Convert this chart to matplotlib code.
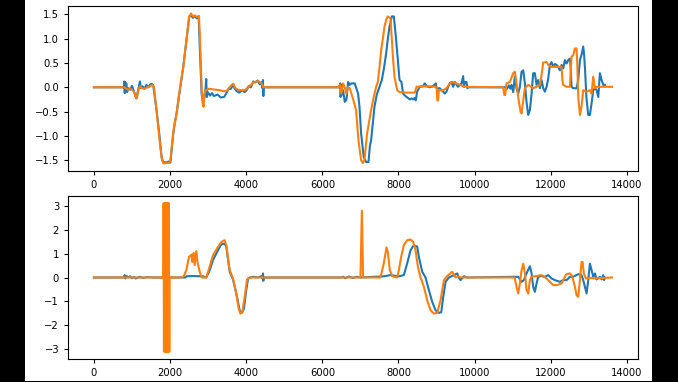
import matplotlib
matplotlib.use("Agg")
import matplotlib.pyplot as plt
from matplotlib.patches import Rectangle

# top panel, blue series (x, y)
top_blue_x = [0, 790, 800, 810, 820, 835, 850, 870, 900, 950, 1000, 1050, 1100, 1120, 1150, 1190, 1210, 1230,
              1280, 1330, 1380, 1430, 1480, 1520, 1560, 1600, 1650, 1716, 1778, 1820, 1900, 1960, 2010, 2040,
              2084, 2130, 2172, 2240, 2303, 2350, 2390, 2452, 2504, 2550, 2600, 2650, 2700, 2750, 2785, 2828,
              2872, 2900, 2930, 2950, 2965, 2990, 3050, 3100, 3150, 3250, 3330, 3420, 3480, 3530, 3600, 3660,
              3690, 3750, 3820, 3900, 3960, 4010, 4060, 4120, 4186, 4240, 4300, 4360, 4400, 4430, 4440, 4450,
              4460, 6460, 6470, 6480, 6500, 6520, 6544, 6588, 6632, 6676, 6720, 6763, 6851, 6939, 6975, 7018,
              7088, 7150, 7211, 7250, 7281, 7330, 7369, 7430, 7501, 7562, 7620, 7676, 7720, 7764, 7825, 7878,
              7939, 7990, 8027, 8077, 8120, 8209, 8250, 8296, 8340, 8384, 8420, 8454, 8489, 8559, 8640, 8691,
              8740, 8822, 8900, 8980, 9000, 9085, 9172, 9215, 9260, 9304, 9348, 9390, 9435, 9480, 9560, 9654,
              9698, 9720, 9742, 9786, 9810, 9830, 10800, 10850, 10900, 10940, 10969, 11013, 11056, 11100,
              11144, 11188, 11232, 11276, 11320, 11363, 11407, 11451, 11495, 11538, 11582, 11626, 11669, 11714,
              11757, 11801, 11845, 11889, 11933, 11976, 12020, 12064, 12108, 12152, 12196, 12239, 12283, 12326,
              12370, 12414, 12458, 12502, 12520, 12545, 12590, 12677, 12721, 12765, 12808, 12852, 12875, 12900,
              12935, 12983, 13027, 13071, 13115, 13160, 13203, 13247, 13290, 13334, 13378, 13422]
top_blue_y = [0, 0, 0.12, -0.12, 0.1, -0.05, 0.08, -0.1, -0.02, -0.05, 0.03, -0.08, -0.2, -0.23, -0.1, 0.05, 0.12, -0.02,
              0.02, -0.03, 0.05, 0.0, 0.06, 0.07, 0.03, -0.2, -0.5, -0.95, -1.44, -1.54, -1.55, -1.53, -1.55, -1.3,
              -0.95, -0.7, -0.54, -0.15, 0.18, 0.45, 0.7, 1.11, 1.46, 1.48, 1.43, 1.47, 1.42, 1.46, 0.77, -0.13,
              -0.37, -0.2, -0.05, 0.17, -0.2, -0.1, -0.17, -0.12, -0.18, -0.15, -0.21, -0.2, -0.12, -0.04, -0.03, 0.07,
              -0.02, -0.08, -0.11, -0.06, -0.1, -0.06, 0.02, 0.0, 0.12, 0.1, 0.14, 0.06, 0.1, -0.02, 0.15, -0.18,
              0.0, 0.0, 0.08, -0.2, 0.05, -0.15, -0.06, -0.3, -0.26, 0.11, 0.05, 0.08, 0.08, -0.13, -0.4, -0.95,
              -1.44, -1.54, -1.54, -1.2, -1.09, -0.7, -0.4, -0.15, 0.01, 0.15, 0.4, 0.7, 1.0, 1.25, 1.46, 1.46,
              0.97, 0.5, 0.15, 0.11, -0.13, -0.2, -0.22, -0.25, -0.23, -0.25, -0.22, -0.27, -0.09, 0.01, 0.02, 0.08,
              0.02, 0.0, 0.02, 0.08, -0.02, -0.02, -0.09, -0.13, -0.09, 0.01, 0.08, 0.11, 0.01, 0.11, 0.01, 0.08,
              0.23, 0.01, 0.11, 0.11, -0.02, 0.0, 0.0, -0.03, 0.04, -0.03, 0.05, -0.1, 0.22, -0.02,
              -0.13, 0.01, 0.32, 0.35, 0.08, -0.3, -0.57, -0.47, -0.13, 0.29, 0.29, 0.05, 0.15, -0.02,
              0.15, -0.02, -0.09, 0.01, 0.18, 0.46, 0.52, 0.42, 0.48, 0.46, 0.42, 0.35, 0.46, 0.39,
              0.56, 0.49, 0.56, 0.59, 0.42, 0.01, -0.02, -0.02, 0.15, 0.56, 0.67, 0.84, 0.67, 0.36,
              -0.2, -0.57, -0.57, -0.33, -0.06, -0.02, -0.06, -0.2, 0.29, 0.15, 0.05, 0.05]

# top panel, orange series
top_orange_x = [0, 800, 850, 900, 950, 1000, 1060, 1100, 1130, 1170, 1210, 1260, 1320, 1400, 1480, 1540, 1580,
                1620, 1680, 1740, 1790, 1830, 1900, 1980, 2010, 2060, 2100, 2160, 2230, 2290, 2350, 2400, 2450,
                2500, 2550, 2600, 2650, 2700, 2760, 2790, 2830, 2860, 2880, 2900, 2930, 2960, 3020, 3100, 3200,
                3300, 3400, 3485, 3560, 3620, 3660, 3720, 3790, 3860, 3967, 4050, 4120, 4200, 4317, 4405, 4450,
                6413, 6457, 6500, 6544, 6588, 6632, 6676, 6720, 6763, 6810, 6887, 6948, 7018, 7062, 7106, 7176,
                7230, 7281, 7350, 7413, 7457, 7500, 7545, 7590, 7632, 7680, 7720, 7790, 7825, 7860, 7895, 7965,
                8034, 8200, 8428, 8472, 8600, 8900, 9000, 9020, 9041, 9060, 9172, 9260, 9348, 9435, 9523, 9610,
                9698, 9786, 10750, 10780, 10800, 10837, 10925, 11013, 11056, 11100, 11144, 11205, 11232, 11276,
                11319, 11407, 11538, 11626, 11714, 11757, 11801, 11889, 11933, 12020, 12195, 12283, 12305, 12326,
                12414, 12502, 12545, 12589, 12633, 12677, 12695, 12721, 12765, 12808, 12852, 12940, 13027, 13071,
                13115, 13160, 13203, 13610]
top_orange_y = [0, 0, -0.03, -0.05, -0.02, -0.05, -0.1, -0.2, -0.22, -0.05, 0.02, -0.02, -0.03, 0.0, 0.03, 0.05, 0.0,
                -0.3, -0.75, -1.2, -1.5, -1.57, -1.56, -1.56, -1.5, -1.1, -0.85, -0.6, -0.2, 0.15, 0.42, 0.78, 1.1,
                1.45, 1.52, 1.46, 1.48, 1.45, 1.47, 0.9, 0.0, -0.35, -0.4, -0.15, -0.08, -0.05, -0.03, -0.04, -0.05,
                -0.06, -0.08, -0.08, 0.0, 0.05, 0.07, -0.02, -0.05, -0.06, -0.06, 0.0, 0.05, 0.1, 0.13, 0.08, 0.0,
                0.0, 0.05, -0.13, 0.08, 0.0, -0.13, 0.0, -0.02, -0.13, -0.25, -0.47, -1.09, -1.5, -1.56, -1.5, -0.95,
                -0.7, -0.47, -0.2, 0.01, 0.11, 0.4, 0.77, 1.0, 1.25, 1.4, 1.46, 1.42, 0.97, 0.55, 0.22, -0.06,
                -0.1, -0.11, -0.11, 0.01, 0.02, 0.02, 0.0, -0.27, -0.27, -0.06, -0.06, -0.02, 0.08, 0.11, 0.08, 0.05,
                0.02, 0.01, 0.0, -0.16, -0.16, 0.08, 0.11, 0.29, 0.32, 0.08, -0.2, -0.5, -0.54, -0.27,
                -0.02, 0.05, -0.02, 0.01, 0.05, 0.25, 0.51, 0.52, 0.46, 0.42, 0.42, 0.42, 0.15, 0.05,
                0.01, 0.01, 0.63, 0.66, 0.8, 0.8, 0.49, -0.2, -0.57, -0.4, -0.06, -0.09, -0.06, -0.13,
                0.22, -0.02, 0.01, 0.01]

# bottom panel, blue series
bot_blue_x = [0, 800, 806, 830, 860, 900, 950, 1000, 1050, 1100, 1200, 1300, 1400, 1507, 2400, 2427, 2600, 2865,
              2953, 3040, 3128, 3259, 3347, 3434, 3478, 3566, 3653, 3758, 3828, 3890, 3940, 4004, 4050, 4100,
              4200, 4300, 4400, 4430, 4442, 4450, 4460, 6500, 6550, 6600, 6700, 6800, 6900, 7000, 7614, 7790,
              8009, 8140, 8228, 8316, 8386, 8491, 8535, 8623, 8710, 8798, 8886, 8973, 9061, 9123, 9175, 9237,
              9324, 9456, 9544, 9580, 9630, 9720, 9800, 11056, 11144, 11232, 11293, 11363, 11451, 11495, 11538,
              11582, 11626, 11669, 11757, 11845, 11933, 12020, 12108, 12239, 12326, 12414, 12502, 12589, 12721,
              12808, 12852, 12896, 12940, 12983, 13027, 13071, 13115, 13160, 13203, 13290, 13334, 13378, 13400,
              13420]
bot_blue_y = [0, 0, 0.1, -0.04, 0.06, 0.0, 0.05, -0.03, 0.03, -0.04, 0.03, -0.02, 0.02, 0.0, 0.0, 0.05, 0.06, 0.05,
              0.0, 0.3, 0.73, 1.14, 1.39, 1.42, 1.28, 0.24, -0.08, -0.8, -1.37, -1.48, -1.3, -0.5, -0.04, 0.0,
              0.03, 0.0, 0.05, -0.05, 0.17, -0.14, 0.0, 0.0, 0.03, -0.03, 0.04, -0.02, 0.03, 0.0, 0.05, 0.1,
              0.05, 0.1, 0.59, 1.14, 1.32, 1.3, 0.86, 0.24, 0.0, -0.53, -1.02, -1.37, -1.48, -1.45, -0.81, -0.18,
              0.0, 0.1, 0.17, 0.0, -0.11, 0.05, 0.0, 0.03, 0.03, -0.18, -0.11, 0.17, 0.47, 0.17, -0.39,
              -0.6, -0.25, 0.03, 0.06, 0.03, 0.1, -0.04, -0.11, -0.18, -0.11, -0.11, 0.03, 0.03, 0.14,
              0.1, -0.11, -0.39, -0.67, -0.11, 0.58, 0.31, 0.03, 0.17, -0.08, 0.03, -0.08, 0.1, -0.11,
              0.0]

# bottom panel, orange: the dense wrap-around burst near x=1900
burst_x = [1825, 1830, 1840, 1850, 1860, 1870, 1880, 1890, 1900, 1910, 1920, 1930, 1940, 1950, 1960, 1970,
           1980, 1985]
burst_y = [0, 3.1, -3.1, 3.1, -3.1, 3.1, -3.1, 3.1, -3.1, 3.1, -3.1, 3.1, -3.1, 3.1, -3.1, 3.1,
           -3.1, 0]

# bottom panel, orange series (rest)
bot_orange_x = [1990, 2295, 2360, 2427, 2497, 2530, 2559, 2585, 2620, 2645, 2690, 2720, 2778, 2830, 2953, 3040,
                3128, 3259, 3347, 3434, 3478, 3566, 3653, 3740, 3802, 3846, 3899, 3960, 4022, 4100, 7001, 7038,
                7071, 7527, 7614, 7685, 7720, 7772, 7834, 7965, 8009, 8070, 8140, 8228, 8316, 8386, 8448, 8509,
                8579, 8667, 8754, 8842, 8930, 9018, 9105, 9193, 9280, 9412, 9500, 9560, 9650, 11050, 11100, 11144,
                11188, 11232, 11276, 11320, 11363, 11407, 11451, 11494, 11626, 11757, 11889, 11976, 12064, 12152,
                12283, 12370, 12414, 12502, 12545, 12590, 12633, 12677, 12721, 12765, 12808, 12834, 12870, 12920,
                13071, 13115, 13610]
bot_orange_y = [0, 0, 0.05, 0.3, 0.86, 0.9, 0.95, 0.65, 1.03, 0.52, 1.1, 0.65, 0.24, 0.0, 0.0, 0.45,
                0.93, 1.28, 1.49, 1.56, 1.35, 0.31, -0.04, -0.67, -1.3, -1.51, -1.45, -0.81, -0.08, 0.0, 0.0, 2.79,
                0.0, 0.0, 0.59, 1.26, 1.07, 0.31, 0.06, 0.0, 0.3, 0.86, 1.35, 1.56, 1.59, 1.49, 1.14, 0.45,
                0.0, -0.39, -0.95, -1.37, -1.51, -1.48, -0.95, -0.11, 0.06, 0.24, 0.0, 0.05, 0.0, 0.0, -0.39, -0.67,
                -0.25, 0.3, 0.58, 0.17, -0.53, -0.67, -0.11, 0.03, 0.06, 0.1, -0.04, -0.18, -0.32, -0.32,
                -0.25, 0.03, 0.14, 0.17, 0.1, -0.11, -0.39, -0.74, -0.81, -0.11, 0.65, 0.65, 0.17, -0.04,
                -0.01, -0.04, 0.0]

plt.rcParams['font.size'] = 7.2
plt.rcParams['xtick.major.size'] = 2.9
plt.rcParams['ytick.major.size'] = 2.9

fig = plt.figure(figsize=(6.78, 3.82), dpi=100)
fig.patch.set_facecolor('black')
# white page area inside the black frame
page = Rectangle((25 / 678, 1 / 382), 627 / 678, 381 / 382, transform=fig.transFigure,
                 facecolor='white', edgecolor='none', zorder=-10)
fig.patches.append(page)

ax1 = fig.add_axes([68 / 678, 1 - 171 / 382, 570 / 678, 165 / 382])
ax2 = fig.add_axes([68 / 678, 1 - 359 / 382, 570 / 678, 163 / 382])

lw = 1.5
ax1.plot(top_blue_x, top_blue_y, color='#1f77b4', lw=lw)
ax1.plot(top_orange_x, top_orange_y, color='#ff7f0e', lw=lw)

orange_x = [0] + burst_x + bot_orange_x
orange_y = [0] + burst_y + bot_orange_y
ax2.plot(bot_blue_x, bot_blue_y, color='#1f77b4', lw=lw)
ax2.plot(orange_x, orange_y, color='#ff7f0e', lw=lw)

ax1.set_yticks([-1.5, -1.0, -0.5, 0.0, 0.5, 1.0, 1.5])
ax2.set_yticks([-3, -2, -1, 0, 1, 2, 3])
for ax in (ax1, ax2):
    ax.set_xticks([0, 2000, 4000, 6000, 8000, 10000, 12000, 14000])

fig.savefig("out.png", dpi=100, facecolor=fig.get_facecolor())
